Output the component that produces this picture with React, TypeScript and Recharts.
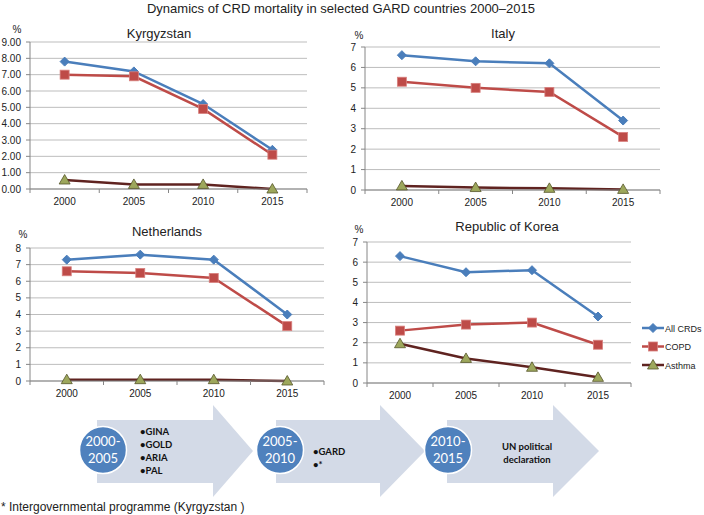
import React from 'react';
import { LineChart, Line, XAxis, YAxis, CartesianGrid, Legend } from 'recharts';

const years = ['2000', '2005', '2010', '2015'];

const kyrgyzstanAll = [7.8, 7.2, 5.2, 2.4];
const kyrgyzstanCopd = [7.0, 6.9, 4.9, 2.1];
const kyrgyzstanAsthma = [0.55, 0.28, 0.28, 0.0];

const italyAll = [6.6, 6.3, 6.2, 3.4];
const italyCopd = [5.3, 5.0, 4.8, 2.6];
const italyAsthma = [0.2, 0.12, 0.08, 0.03];

const netherlandsAll = [7.3, 7.6, 7.3, 4.0];
const netherlandsCopd = [6.6, 6.5, 6.2, 3.3];
const netherlandsAsthma = [0.08, 0.08, 0.08, 0.0];

const koreaAll = [6.3, 5.5, 5.6, 3.3];
const koreaCopd = [2.6, 2.9, 3.0, 1.9];
const koreaAsthma = [1.95, 1.22, 0.78, 0.28];

const seriesNames = ['All CRDs', 'COPD', 'Asthma'];

const W = 704;
const H = 515;
const FONT = '"Liberation Sans", Arial, sans-serif';
const ALL_COLOR = '#4A7EBB';
const COPD_COLOR = '#BE4B48';
const ASTHMA_COLOR = '#5F2320';
const TRIANGLE_FILL = '#9DA75C';
const seriesColors = [ALL_COLOR, COPD_COLOR, ASTHMA_COLOR];

type Box = { left: number; top: number; right: number; bottom: number };

const panels = [
  {
    title: 'Kyrgyzstan', all: kyrgyzstanAll, copd: kyrgyzstanCopd, asthma: kyrgyzstanAsthma,
    max: 9, decimals: 2, box: { left: 30, top: 42, right: 307, bottom: 189 },
    titleX: 159, titleY: 38, pctX: 17, pctY: 33,
  },
  {
    title: 'Italy', all: italyAll, copd: italyCopd, asthma: italyAsthma,
    max: 7, decimals: 0, box: { left: 365, top: 47, right: 660, bottom: 190 },
    titleX: 503, titleY: 38, pctX: 359, pctY: 39,
  },
  {
    title: 'Netherlands', all: netherlandsAll, copd: netherlandsCopd, asthma: netherlandsAsthma,
    max: 8, decimals: 0, box: { left: 30, top: 248, right: 324, bottom: 381 },
    titleX: 167, titleY: 236, pctX: 23, pctY: 238,
  },
  {
    title: 'Republic of Korea', all: koreaAll, copd: koreaCopd, asthma: koreaAsthma,
    max: 7, decimals: 0, box: { left: 367, top: 242, right: 631, bottom: 383 },
    titleX: 507, titleY: 231, pctX: 359, pctY: 233, legend: true,
  },
];

function Diamond({ cx, cy }: any) {
  const s = 4.5;
  return (
    <polygon
      points={`${cx},${cy - s} ${cx + s},${cy} ${cx},${cy + s} ${cx - s},${cy}`}
      fill={ALL_COLOR}
      stroke={ALL_COLOR}
    />
  );
}

function Square({ cx, cy }: any) {
  return <rect x={cx - 4.5} y={cy - 4.5} width={9} height={9} fill={COPD_COLOR} stroke="#d8807e" strokeWidth={0.8} />;
}

function Triangle({ cx, cy }: any) {
  return (
    <polygon
      points={`${cx},${cy - 5.5} ${cx + 5.5},${cy + 4} ${cx - 5.5},${cy + 4}`}
      fill={TRIANGLE_FILL}
      stroke="#55552a"
      strokeWidth={0.8}
    />
  );
}

function YearTick({ x, y, payload, index, box }: any) {
  const bw = (box.right - box.left) / years.length;
  return (
    <g>
      <line x1={x - bw / 2} x2={x - bw / 2} y1={box.bottom} y2={box.bottom + 4} stroke="#868686" />
      {index === years.length - 1 && (
        <line x1={x + bw / 2} x2={x + bw / 2} y1={box.bottom} y2={box.bottom + 4} stroke="#868686" />
      )}
      <text x={x} y={y} dy="0.71em" textAnchor="middle" fontSize={10} fill="#222" fontFamily={FONT}>
        {payload.value}
      </text>
    </g>
  );
}

function LegendContent() {
  const shapes = [Diamond, Square, Triangle];
  return (
    <svg width={62} height={56} style={{ display: 'block' }}>
      {seriesNames.map((name, i) => {
        const Shape = shapes[i];
        const cy = 8 + i * 18.5;
        return (
          <g key={name}>
            <line x1={0} x2={22} y1={cy} y2={cy} stroke={seriesColors[i]} strokeWidth={2.5} />
            <Shape cx={11} cy={cy} />
            <text x={23} y={cy + 3.5} fontSize={9} fill="#222" fontFamily={FONT}>{name}</text>
          </g>
        );
      })}
    </svg>
  );
}

function Panel({ p }: any) {
  const box: Box = p.box;
  const rows = years.map((year, i) => ({
    year,
    all: p.all[i],
    copd: p.copd[i],
    asthma: p.asthma[i],
  }));
  const ticks = Array.from({ length: p.max + 1 }, (_, i) => i);
  return (
    <div style={{ position: 'absolute', left: 0, top: 0 }}>
      <LineChart
        width={W}
        height={H}
        data={rows}
        margin={{ top: box.top, left: box.left - 30, right: W - box.right, bottom: H - box.bottom - 20 }}
      >
        <CartesianGrid vertical={false} stroke="#BDBDBD" />
        <XAxis
          dataKey="year"
          scale="band"
          height={20}
          stroke="#868686"
          tickLine={false}
          tickSize={0}
          tickMargin={9}
          tick={(props: any) => <YearTick {...props} box={box} />}
        />
        <YAxis
          width={30}
          domain={[0, p.max]}
          ticks={ticks}
          interval={0}
          stroke="#868686"
          tickSize={4}
          tickMargin={5}
          tick={{ fontSize: 10, fill: '#222', fontFamily: FONT }}
          tickFormatter={(v: number) => v.toFixed(p.decimals)}
        />
        {p.legend && (
          <Legend
            layout="vertical"
            align="center"
            verticalAlign="middle"
            content={<LegendContent />}
            wrapperStyle={{ position: 'absolute', left: 642, top: 320, width: 62, height: 56 }}
          />
        )}
        <Line
          name={seriesNames[0]}
          dataKey="all"
          stroke={ALL_COLOR}
          strokeWidth={2.5}
          dot={(d: any) => <Diamond key={`a${d.index}`} {...d} />}
          isAnimationActive={false}
        />
        <Line
          name={seriesNames[1]}
          dataKey="copd"
          stroke={COPD_COLOR}
          strokeWidth={2.5}
          dot={(d: any) => <Square key={`c${d.index}`} {...d} />}
          isAnimationActive={false}
        />
        <Line
          name={seriesNames[2]}
          dataKey="asthma"
          stroke={ASTHMA_COLOR}
          strokeWidth={2.5}
          dot={(d: any) => <Triangle key={`t${d.index}`} {...d} />}
          isAnimationActive={false}
        />
      </LineChart>
    </div>
  );
}

const timeline = [
  { x0: 97, head: 213, tip: 253, cx: 103, years: ['2000-', '2005'], items: ['•GINA', '•GOLD', '•ARIA', '•PAL'], textX: 140, textY: 435, align: 'start' },
  { x0: 276, head: 380, tip: 425, cx: 280, years: ['2005-', '2010'], items: ['•GARD', '•*'], textX: 313, textY: 455, align: 'start' },
  { x0: 447, head: 553, tip: 599, cx: 448, years: ['2010-', '2015'], items: ['UN political', 'declaration'], textX: 527, textY: 450, align: 'middle' },
];

function Overlay() {
  return (
    <svg width={W} height={H} style={{ position: 'absolute', left: 0, top: 0 }}>
      <text x={341} y={13} textAnchor="middle" fontSize={13} fill="#222" fontFamily={FONT}>
        Dynamics of CRD mortality in selected GARD countries 2000–2015
      </text>
      {panels.map((p) => (
        <g key={p.title}>
          <text x={p.titleX} y={p.titleY} textAnchor="middle" fontSize={13} fill="#222" fontFamily={FONT}>{p.title}</text>
          <text x={p.pctX} y={p.pctY} textAnchor="middle" fontSize={10} fill="#222" fontFamily={FONT}>%</text>
        </g>
      ))}
      {timeline.map((t) => (
        <g key={t.years[0]}>
          <polygon
            points={`${t.x0},420 ${t.head},420 ${t.head},405 ${t.tip},451 ${t.head},497 ${t.head},483 ${t.x0},483`}
            fill="#D3DAE7"
          />
          <circle cx={t.cx} cy={450} r={23.5} fill="#4F81BD" stroke="#fff" strokeWidth={1.5} />
          <text x={t.cx} y={446} textAnchor="middle" fontSize={13} fill="#fff" fontFamily="Lato, sans-serif">{t.years[0]}</text>
          <text x={t.cx} y={463} textAnchor="middle" fontSize={13} fill="#fff" fontFamily="Lato, sans-serif">{t.years[1]}</text>
          {t.items.map((item, i) => (
            <text
              key={item}
              x={t.textX}
              y={t.textY + i * 13}
              textAnchor={t.align as any}
              fontSize={9.5}
              fontWeight="bold"
              fill="#111"
              fontFamily="Lato, sans-serif"
            >
              {item}
            </text>
          ))}
        </g>
      ))}
      <text x={1} y={511} fontSize={12} fill="#222" fontFamily={FONT}>* Intergovernmental programme (Kyrgyzstan )</text>
    </svg>
  );
}

export default function App() {
  return (
    <div style={{ position: 'absolute', left: 0, top: 0, width: W, height: H, background: '#fff', overflow: 'hidden' }}>
      <Overlay />
      {panels.map((p) => (
        <Panel key={p.title} p={p} />
      ))}
    </div>
  );
}
